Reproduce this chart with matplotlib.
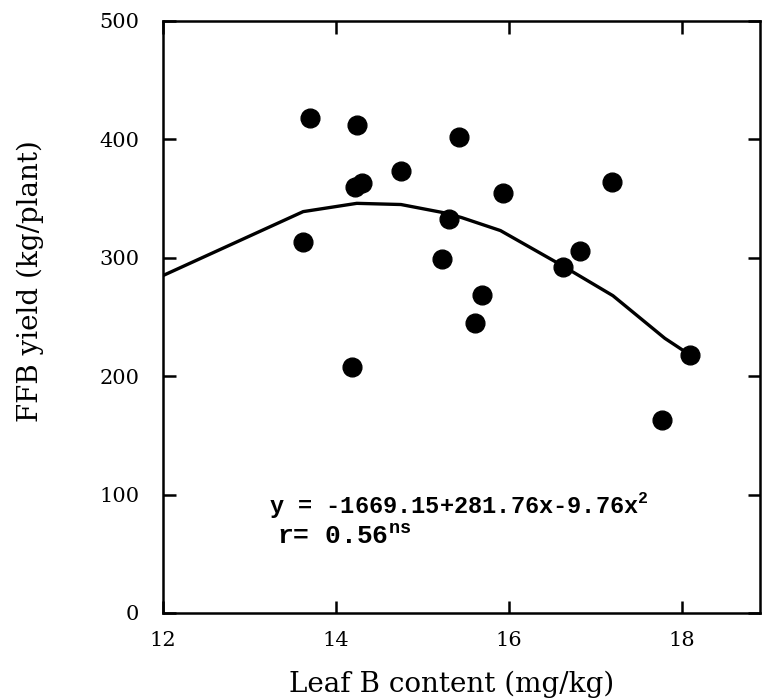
import matplotlib
matplotlib.use('Agg')
import matplotlib.pyplot as plt

# data points
leaf_b = [13.70, 14.24, 14.22, 14.30, 13.62, 15.42, 14.75, 15.93, 17.19,
          15.31, 15.23, 16.82, 16.62, 15.69, 15.61, 18.09, 14.18, 17.77]
ffb = [418, 412, 360, 363, 313, 402, 373, 355, 364,
       333, 299, 306, 292, 269, 245, 218, 208, 163]

# fitted curve as drawn
fit_x = [12.0, 13.62, 14.24, 14.75, 15.25, 15.45, 15.9, 16.6, 17.2, 17.8, 18.09]
fit_y = [285, 339, 346, 345, 338, 334, 323, 294, 268, 232, 218]

xticks = [12, 14, 16, 18]
yticks = [0, 100, 200, 300, 400, 500]

plt.rcParams['mathtext.fontset'] = 'custom'
plt.rcParams['mathtext.rm'] = 'Liberation Mono:bold'
plt.rcParams['mathtext.bf'] = 'Liberation Mono:bold'

fig = plt.figure(figsize=(7.62, 7.0), dpi=100)
ax = fig.add_axes([163/762, 87/700, 597/762, 592/700])

ax.plot(fit_x, fit_y, color='black', lw=2.4, zorder=2)
ax.plot(leaf_b, ffb, 'o', color='black', ms=13.5, zorder=3)

ax.set_xlim(12, 18.9)
ax.set_ylim(0, 500)
ax.set_xticks(xticks)
ax.set_yticks(yticks)

serif = 'DejaVu Serif'
ax.set_xticklabels([str(t) for t in xticks], family=serif, fontsize=15)
ax.set_yticklabels([str(t) for t in yticks], family=serif, fontsize=15)
ax.tick_params(direction='in', length=9, width=1.8, top=True, right=True)
ax.tick_params(axis='y', pad=17)
ax.tick_params(axis='x', pad=13)

for s in ax.spines.values():
    s.set_linewidth(1.8)

ax.set_xlabel("Leaf B content (mg/kg)", family=serif, fontsize=20)
ax.set_ylabel("FFB yield (kg/plant)", family=serif, fontsize=20)
ax.xaxis.set_label_coords(0.483, -0.098)
ax.yaxis.set_label_coords(-0.2, 0.56)

ax.text(13.22, 91, r"y = -1669.15+281.76x-9.76x$^{2}$", family='Liberation Mono',
        weight='bold', fontsize=17, va='center', ha='left')
ax.text(13.32, 65, r"r= 0.56$^{\mathrm{ns}}$", family='Liberation Mono',
        weight='bold', fontsize=19, va='center', ha='left')

fig.savefig('out.png', dpi=100)
